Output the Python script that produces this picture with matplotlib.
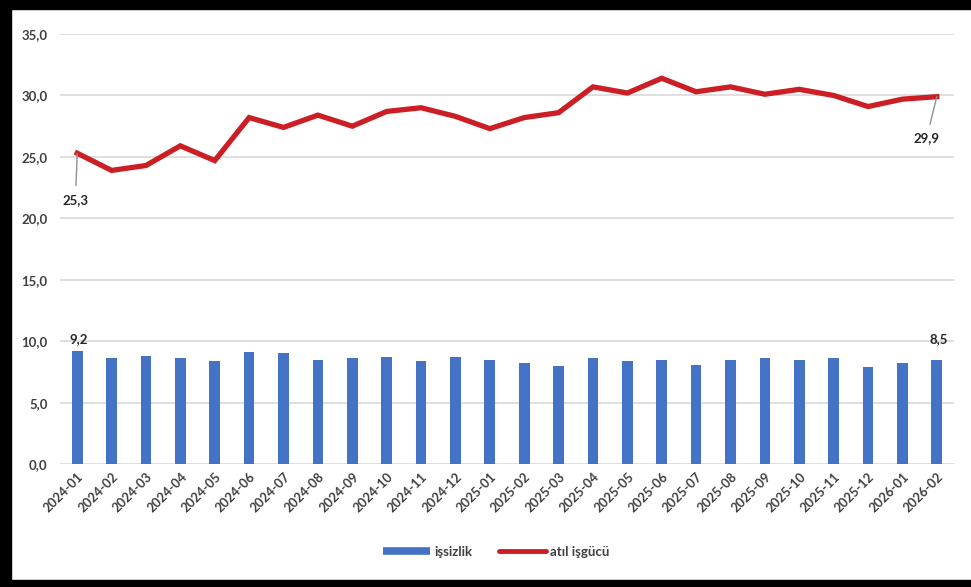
import matplotlib
matplotlib.use("Agg")
import matplotlib.pyplot as plt
from matplotlib.lines import Line2D
from matplotlib.patches import Rectangle
import numpy as np

plt.rcParams['font.family'] = ['Lato', 'DejaVu Sans']
plt.rcParams['font.weight'] = 'bold'

# aylık oranlar (%)
aylar = ['2024-01', '2024-02', '2024-03', '2024-04', '2024-05', '2024-06',
         '2024-07', '2024-08', '2024-09', '2024-10', '2024-11', '2024-12',
         '2025-01', '2025-02', '2025-03', '2025-04', '2025-05', '2025-06',
         '2025-07', '2025-08', '2025-09', '2025-10', '2025-11', '2025-12',
         '2026-01', '2026-02']
issizlik = [9.2, 8.6, 8.8, 8.6, 8.4, 9.1, 9.0, 8.5, 8.6, 8.7, 8.4, 8.7, 8.5,
            8.2, 8.0, 8.6, 8.4, 8.5, 8.1, 8.5, 8.6, 8.5, 8.6, 7.9, 8.2, 8.5]
atil_isgucu = [25.3, 23.9, 24.3, 25.9, 24.7, 28.2, 27.4, 28.4, 27.5, 28.7,
               29.0, 28.3, 27.3, 28.2, 28.6, 30.7, 30.2, 31.4, 30.3, 30.7,
               30.1, 30.5, 30.0, 29.1, 29.7, 29.9]
y_ticks = [0, 5, 10, 15, 20, 25, 30, 35]

blue = '#4472c4'
red = '#cc1e25'
text_col = '#404040'

fig = plt.figure(figsize=(9.71, 5.87), dpi=100)
ax = fig.add_axes([0.0618, 0.2095, 0.9207, 0.7325])

x = np.arange(len(aylar))
ax.bar(x, issizlik, width=0.31, color=blue, zorder=2)
ax.plot(x, atil_isgucu, color=red, lw=3.8, solid_joinstyle='miter', zorder=3)

ax.set_xlim(-0.5, len(aylar) - 0.5)
ax.set_ylim(0, 35)
ax.set_yticks(y_ticks)
ax.set_yticklabels([f'{v:.1f}'.replace('.', ',') for v in y_ticks],
                   fontsize=9.5, color=text_col)
ax.yaxis.grid(True, color='#d9d9d9', lw=1.2, zorder=0)
ax.tick_params(axis='both', length=0)
ax.tick_params(axis='y', pad=9)
ax.set_xticks(x)
ax.set_xticklabels(aylar, rotation=45, ha='right', va='top',
                   rotation_mode='anchor', fontsize=9.3, color=text_col)
ax.tick_params(axis='x', pad=5)
for s in ax.spines.values():
    s.set_visible(False)

def fmt(v):
    return f'{v:.1f}'.replace('.', ',')

# ilk ve son değer etiketleri
ax.annotate(fmt(atil_isgucu[0]), xy=(x[0], atil_isgucu[0]),
            xytext=(x[0] - 0.05, atil_isgucu[0] - 3.8),
            ha='center', va='center', fontsize=9.5, color='#262626',
            arrowprops=dict(arrowstyle='-', color='#909090', lw=1,
                            shrinkA=4, shrinkB=0))
ax.annotate(fmt(atil_isgucu[-1]), xy=(x[-1], atil_isgucu[-1]),
            xytext=(x[-1] - 0.3, atil_isgucu[-1] - 3.4),
            ha='center', va='center', fontsize=9.5, color='#262626',
            arrowprops=dict(arrowstyle='-', color='#909090', lw=1,
                            shrinkA=4, shrinkB=0))
ax.text(x[0] + 0.05, issizlik[0] + 0.5, fmt(issizlik[0]), ha='center',
        va='bottom', fontsize=9.5, color='#262626')
ax.text(x[-1] + 0.05, issizlik[-1] + 1.2, fmt(issizlik[-1]), ha='center',
        va='bottom', fontsize=9.5, color='#262626')

handles = [Line2D([], [], color=blue, lw=5.5, solid_capstyle='butt'),
           Line2D([], [], color=red, lw=3.5, solid_capstyle='round')]
fig.legend(handles, ['işsizlik', 'atıl işgücü'], loc='center',
           bbox_to_anchor=(0.511, 1 - 552 / 587), ncol=2, frameon=False,
           fontsize=9.5, handlelength=3.6, handletextpad=0.3,
           columnspacing=2.0, labelcolor=text_col)

# siyah çerçeve (üst, sol, alt)
fig.patches.append(Rectangle((0, 1 - 9 / 587), 1, 9 / 587,
                             transform=fig.transFigure, color='black'))
fig.patches.append(Rectangle((0, 0), 11 / 971, 1,
                             transform=fig.transFigure, color='black'))
fig.patches.append(Rectangle((0, 0), 1, 7 / 587,
                             transform=fig.transFigure, color='black'))

fig.savefig('out.png', dpi=100)
